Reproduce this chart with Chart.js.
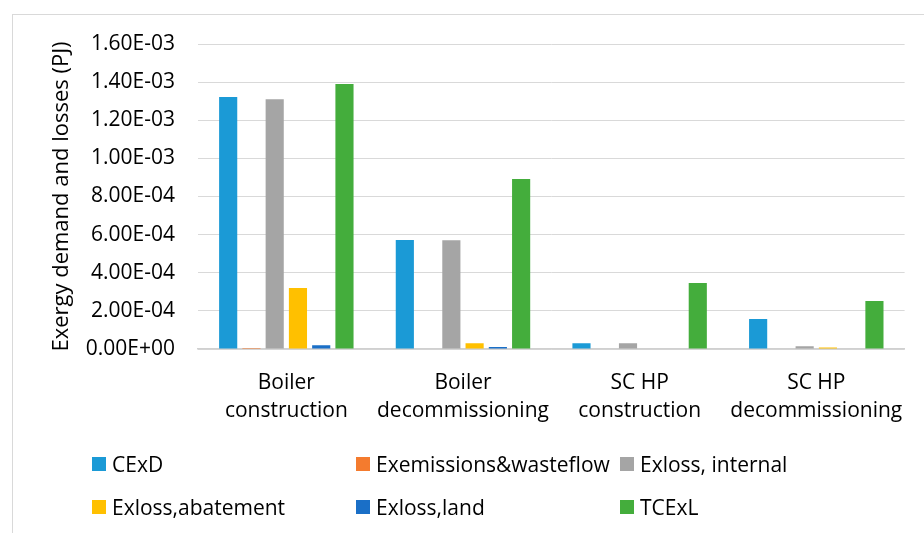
<!DOCTYPE html>
<html>
<head>
<meta charset="utf-8">
<script src="https://cdn.jsdelivr.net/npm/chart.js@4"></script>
<style>
  html, body { margin: 0; padding: 0; background: #fff; width: 924px; height: 533px; overflow: hidden; }
  #frame { position: absolute; left: 12px; top: 14px; width: 930px; height: 540px; border: 1.5px solid #d9d9d9; box-sizing: border-box; }
  #wrap { position: absolute; left: 0; top: 0; width: 924px; height: 440px; }
  #legend { position: absolute; left: 0; top: 0; width: 924px; height: 533px; pointer-events: none; font-family: "Open Sans", sans-serif; font-size: 21px; color: #000; }
  .item { position: absolute; display: flex; align-items: center; white-space: nowrap; }
  .sw { width: 14px; height: 14px; margin-right: 6px; }
</style>
</head>
<body>
<div id="frame"></div>
<div id="wrap"><canvas id="c" width="924" height="440"></canvas></div>
<div id="legend"></div>
<script>
const categories = [["Boiler", "construction"], ["Boiler", "decommissioning"], ["SC HP", "construction"], ["SC HP", "decommissioning"]];
const seriesNames = ["CExD", "Exemissions&wasteflow", "Exloss, internal", "Exloss,abatement", "Exloss,land", "TCExL"];
const CExD = [1.322e-3, 5.72e-4, 3.0e-5, 1.58e-4];
const Exemissions = [5e-6, 0, 0, 0];
const ExlossInternal = [1.31e-3, 5.7e-4, 3.0e-5, 1.5e-5];
const ExlossAbatement = [3.2e-4, 3.0e-5, 0, 8e-6];
const ExlossLand = [2.0e-5, 1.0e-5, 0, 0];
const TCExL = [1.39e-3, 8.92e-4, 3.46e-4, 2.52e-4];
const yTicks = [0, 2e-4, 4e-4, 6e-4, 8e-4, 1e-3, 1.2e-3, 1.4e-3, 1.6e-3];
const colors = ["#1b9ad6", "#f47b2e", "#a5a5a5", "#ffc000", "#1a6fc7", "#44ad3c"];
const seriesData = [CExD, Exemissions, ExlossInternal, ExlossAbatement, ExlossLand, TCExL];

const fontFam = '"Open Sans", sans-serif';

function fmtE(v) {
  if (v === 0) return "0.00E+00";
  const e = Math.floor(Math.log10(Math.abs(v)) + 1e-9);
  const m = v / Math.pow(10, e);
  const sign = e < 0 ? "-" : "+";
  const ea = Math.abs(e);
  return m.toFixed(2) + "E" + sign + (ea < 10 ? "0" + ea : ea);
}

const datasets = seriesNames.map((n, i) => ({
  label: n,
  data: seriesData[i],
  backgroundColor: colors[i],
  borderWidth: 0,
  categoryPercentage: 0.79,
  barPercentage: 0.78
}));

new Chart(document.getElementById("c"), {
  type: "bar",
  data: { labels: categories, datasets },
  options: {
    responsive: false,
    animation: false,
    layout: { padding: { top: 44, right: 14, left: 0, bottom: 0 } },
    plugins: { legend: { display: false }, tooltip: { enabled: false } },
    scales: {
      x: {
        grid: { display: false, drawTicks: false },
        border: { display: true, color: "#d0d0d0", width: 1.5 },
        ticks: { color: "#000", font: { family: fontFam, size: 21, lineHeight: 1.333 }, padding: 20, maxRotation: 0, autoSkip: false },
        afterFit: s => { s.height = 91; }
      },
      y: {
        min: 0, max: 1.6e-3,
        afterBuildTicks: s => { s.ticks = yTicks.map(v => ({ value: v })); },
        grid: { color: "#d9d9d9", lineWidth: 1, drawTicks: false },
        border: { display: false },
        ticks: { color: "#000", font: { family: fontFam, size: 21 }, padding: 23, callback: v => fmtE(v) },
        title: { display: true, text: "Exergy demand and losses (PJ)", color: "#000", font: { family: fontFam, size: 22 }, padding: { top: 49, bottom: 0 } },
        afterFit: s => { s.width = 198; }
      }
    }
  }
});

const leg = document.getElementById("legend");
const colX = [92, 356, 620];
const rowY = [464, 507];
seriesNames.forEach((n, i) => {
  const d = document.createElement("div");
  d.className = "item";
  d.style.left = colX[i % 3] + "px";
  d.style.top = (rowY[Math.floor(i / 3)] - 15) + "px";
  d.style.height = "30px";
  const sw = document.createElement("div");
  sw.className = "sw";
  sw.style.background = colors[i];
  const t = document.createElement("span");
  t.textContent = n;
  d.appendChild(sw); d.appendChild(t);
  leg.appendChild(d);
});
</script>
</body>
</html>
